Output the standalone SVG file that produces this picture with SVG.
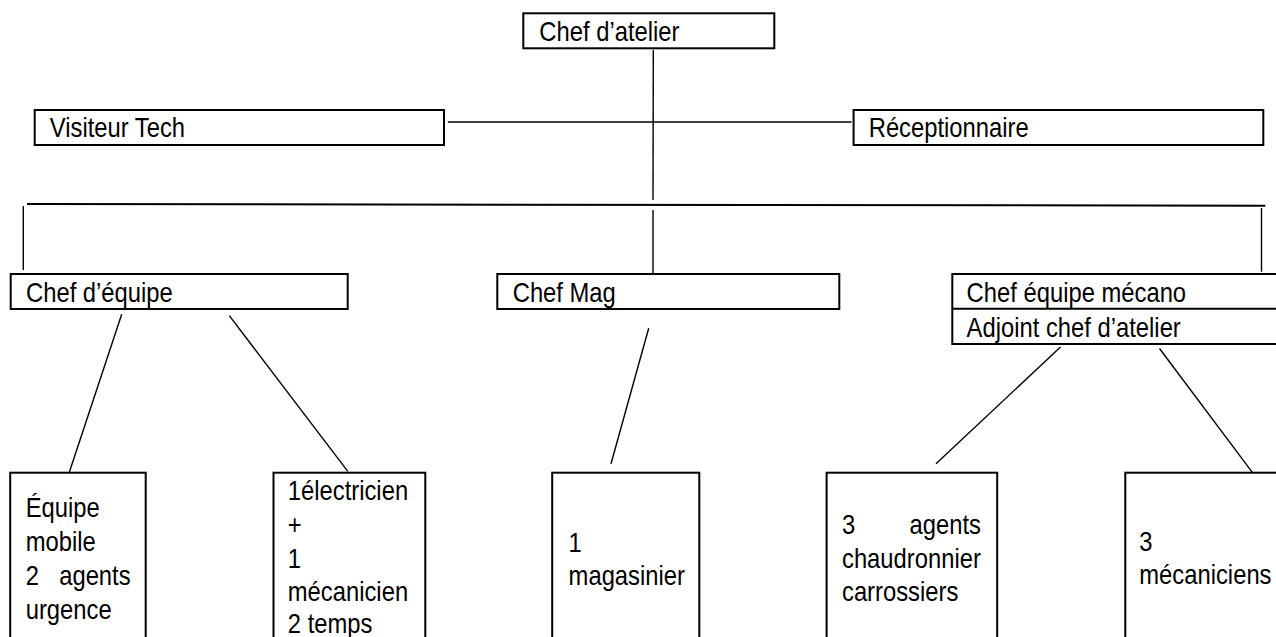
<svg xmlns="http://www.w3.org/2000/svg" width="1276" height="637" viewBox="0 0 1276 637">
<style>
.box{fill:#fff;stroke:#000;stroke-width:2}
.ln{stroke:#000;stroke-width:1.4;fill:none}
.thick{stroke:#000;stroke-width:2;fill:none}
text{font-family:"Liberation Sans",Arial,sans-serif;font-size:28px;fill:#000}
.e{text-anchor:end}
</style>
<rect width="1276" height="637" fill="#fff"/>
<g id="connectors">
<line class="ln" x1="653.3" y1="50" x2="653" y2="200"/>
<line class="ln" x1="447.8" y1="122" x2="851.5" y2="122"/>
<line class="thick" x1="27" y1="204" x2="1265.3" y2="205.7"/>
<line class="ln" x1="23.3" y1="206" x2="23.3" y2="270"/>
<line class="ln" x1="653" y1="210" x2="653" y2="273"/>
<line class="ln" x1="1261.5" y1="208" x2="1261.5" y2="271.7"/>
<line class="ln" x1="121.7" y1="314.3" x2="69.4" y2="472"/>
<line class="ln" x1="229.3" y1="315.7" x2="347.8" y2="471.3"/>
<line class="ln" x1="648.7" y1="328.3" x2="611" y2="463.7"/>
<line class="ln" x1="1060.5" y1="347" x2="936" y2="463.7"/>
<line class="ln" x1="1159.5" y1="348.5" x2="1252.5" y2="472.7"/>
</g>
<g id="chef-atelier">
<rect class="box" x="523.3" y="13.3" width="251" height="35"/>
<text transform="translate(539.3 40.5) scale(0.85 1)">Chef d’atelier</text>
</g>
<g id="visiteur-tech">
<rect class="box" x="34.7" y="110" width="409.3" height="35"/>
<text transform="translate(49.8 137) scale(0.85 1)">Visiteur Tech</text>
</g>
<g id="receptionnaire">
<rect class="box" x="853.6" y="110" width="409.7" height="35"/>
<text transform="translate(868.7 137) scale(0.85 1)">Réceptionnaire</text>
</g>
<g id="chef-equipe">
<rect class="box" x="10.7" y="274" width="337" height="35"/>
<text transform="translate(26 301.5) scale(0.85 1)">Chef d’équipe</text>
</g>
<g id="chef-mag">
<rect class="box" x="497.3" y="274" width="342" height="35"/>
<text transform="translate(512.7 301.5) scale(0.85 1)">Chef Mag</text>
</g>
<g id="chef-equipe-mecano">
<rect class="box" x="952.3" y="274" width="340" height="70"/>
<line class="box" x1="952.3" y1="308.8" x2="1290" y2="308.8"/>
<text transform="translate(966.6 301.5) scale(0.85 1)">Chef équipe mécano</text>
<text transform="translate(966.6 337) scale(0.85 1)">Adjoint chef d’atelier</text>
</g>
<g id="equipe-mobile">
<rect class="box" x="10.2" y="472.7" width="135.5" height="190"/>
<text transform="translate(25.7 517) scale(0.85 1)">Équipe</text>
<text transform="translate(25.7 551.3) scale(0.85 1)">mobile</text>
<text transform="translate(25.7 585.3) scale(0.85 1)">2</text>
<text class="e" transform="translate(130.6 585.3) scale(0.85 1)">agents</text>
<text transform="translate(25.7 618.7) scale(0.85 1)">urgence</text>
</g>
<g id="electricien">
<rect class="box" x="273.5" y="472.7" width="151.8" height="190"/>
<text transform="translate(287.8 500.3) scale(0.85 1)">1électricien</text>
<text transform="translate(287.8 533.7) scale(0.85 1)">+</text>
<text transform="translate(287.8 567.7) scale(0.85 1)">1</text>
<text transform="translate(287.8 601.3) scale(0.85 1)">mécanicien</text>
<text transform="translate(287.8 633) scale(0.85 1)">2 temps</text>
</g>
<g id="magasinier">
<rect class="box" x="552.2" y="472.7" width="147.1" height="190"/>
<text transform="translate(568.6 552) scale(0.85 1)">1</text>
<text transform="translate(568.6 585.3) scale(0.85 1)">magasinier</text>
</g>
<g id="chaudronnier">
<rect class="box" x="826.6" y="472.7" width="170.6" height="190"/>
<text transform="translate(842 534.3) scale(0.85 1)">3</text>
<text class="e" transform="translate(981 534.3) scale(0.85 1)">agents</text>
<text transform="translate(842 568) scale(0.85 1)">chaudronnier</text>
<text transform="translate(842 601.3) scale(0.85 1)">carrossiers</text>
</g>
<g id="mecaniciens">
<rect class="box" x="1125.3" y="472.7" width="170" height="190"/>
<text transform="translate(1139.3 551.3) scale(0.85 1)">3</text>
<text transform="translate(1139.3 583.7) scale(0.85 1)">mécaniciens</text>
</g>
</svg>
